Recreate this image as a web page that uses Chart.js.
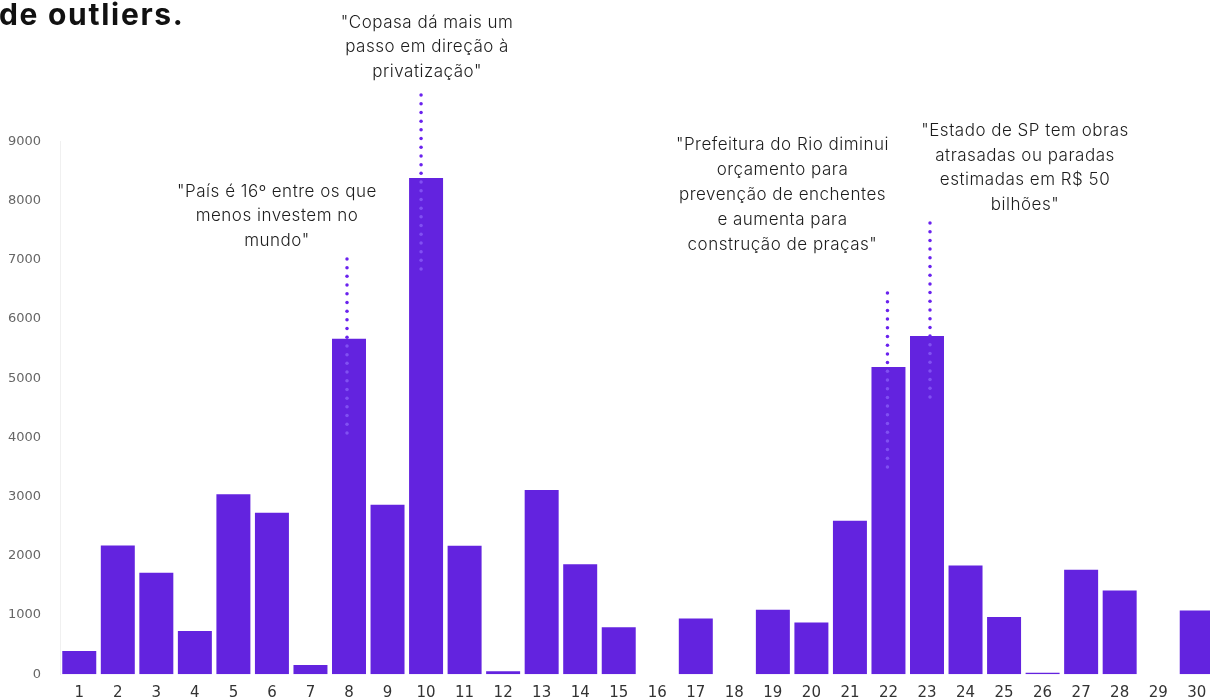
<!DOCTYPE html>
<html><head><meta charset="utf-8">
<script src="https://cdn.jsdelivr.net/npm/chart.js@4.4.0/dist/chart.umd.min.js"></script>
<style>
html,body{margin:0;padding:0;background:#fff;overflow:hidden;width:1210px;height:698px;}
#wrap{position:absolute;left:0;top:0;width:1216px;height:698px;}
#title{position:absolute;left:-1px;top:-4.5px;font:700 30px Inter, sans-serif;color:#111;letter-spacing:1.7px;white-space:nowrap;line-height:36px;}
</style></head><body>
<div id="wrap"><canvas id="c" width="1216" height="698"></canvas></div>
<div id="title">de outliers.</div>
<script>
// ---- data ----
const categories = ['1','2','3','4','5','6','7','8','9','10','11','12','13','14','15','16','17','18','19','20','21','22','23','24','25','26','27','28','29','30'];
const values = [395,2177,1715,733,3040,2730,158,5670,2865,8385,2171,50,3113,1861,795,0,942,0,1089,874,2594,5191,5715,1839,970,28,1765,1416,0,1077];
const yTicks = [0,1000,2000,3000,4000,5000,6000,7000,8000,9000];
const annotationBars = ['8','10','22','23'];
const annotationDotTop = [7016,9785,6441,7623];
const annotationDotBottom = [4059,6829,3468,4650];
const annotationTexts = [
  ['"País é 16º entre os que','menos investem no','mundo"'],
  ['"Copasa dá mais um','passo em direção à','privatização"'],
  ['"Prefeitura do Rio diminui','orçamento para','prevenção de enchentes','e aumenta para','construção de praças"'],
  ['"Estado de SP tem obras','atrasadas ou paradas','estimadas em R$ 50','bilhões"']
];

// ---- annotation layout (pixel styling) ----
const annLayout = {
  dotDx: [-2,-5,-1,3],
  textDx: [-72,1,-106,98],
  textY: [191.7,22.5,145,130.7],
  lineH: [24.6,24.6,25,24.8],
  dotStep: 8.7,
  dotR: 1.75,
  dotColor: '#6a22ee',
  dotColorInBar: '#8150f2',
  font: '300 17px Inter, "Noto Sans", sans-serif',
  letterSpacing: '0.5px',
  textColor: '#1c1c1c'
};

const annotationPlugin = {
  id: 'annotations',
  afterDatasetsDraw(chart) {
    const ctx = chart.ctx;
    const xs = chart.scales.x, ys = chart.scales.y;
    ctx.save();
    annotationBars.forEach((cat, i) => {
      const idx = categories.indexOf(cat);
      const xc = xs.getPixelForValue(idx);
      const xd = xc + annLayout.dotDx[i];
      const y0 = ys.getPixelForValue(annotationDotTop[i]);
      const y1 = ys.getPixelForValue(annotationDotBottom[i]);
      const barTop = ys.getPixelForValue(values[idx]);
      for (let y = y0; y <= y1 + 0.1; y += annLayout.dotStep) {
        ctx.fillStyle = y > barTop + 1 ? annLayout.dotColorInBar : annLayout.dotColor;
        ctx.beginPath();
        ctx.arc(xd, y, annLayout.dotR, 0, Math.PI * 2);
        ctx.fill();
      }
      ctx.fillStyle = annLayout.textColor;
      ctx.font = annLayout.font;
      if ('letterSpacing' in ctx) ctx.letterSpacing = annLayout.letterSpacing;
      ctx.textAlign = 'center';
      ctx.textBaseline = 'middle';
      annotationTexts[i].forEach((line, k) => {
        ctx.fillText(line, xc + annLayout.textDx[i], annLayout.textY[i] + k * annLayout.lineH[i]);
      });
      if ('letterSpacing' in ctx) ctx.letterSpacing = '0px';
    });
    ctx.restore();
  }
};

new Chart(document.getElementById('c'), {
  type: 'bar',
  data: {
    labels: categories,
    datasets: [{
      data: values,
      backgroundColor: '#6323DF',
      borderWidth: 0,
      barPercentage: 0.882,
      categoryPercentage: 1.0
    }]
  },
  options: {
    responsive: false,
    animation: false,
    layout: { padding: { top: 141.5, left: 0, right: 0, bottom: 0 } },
    plugins: { legend: { display: false }, tooltip: { enabled: false } },
    scales: {
      x: {
        grid: { display: false },
        border: { display: false },
        ticks: { color: '#333', font: { family: 'DejaVu Sans', size: 15 }, padding: 2, maxRotation: 0, autoSkip: false },
        afterFit(s) { s.height = 23.7; }
      },
      y: {
        min: 0, max: 9000,
        afterBuildTicks(s) { s.ticks = yTicks.map(v => ({ value: v })); },
        grid: { display: false },
        border: { display: true, color: '#f0f0f0', width: 1 },
        ticks: { color: '#666', font: { family: 'DejaVu Sans', size: 13 }, padding: 11, callback: (v) => String(v) },
        afterFit(s) { s.width = 60; }
      }
    }
  },
  plugins: [annotationPlugin]
});
</script>
</body></html>
